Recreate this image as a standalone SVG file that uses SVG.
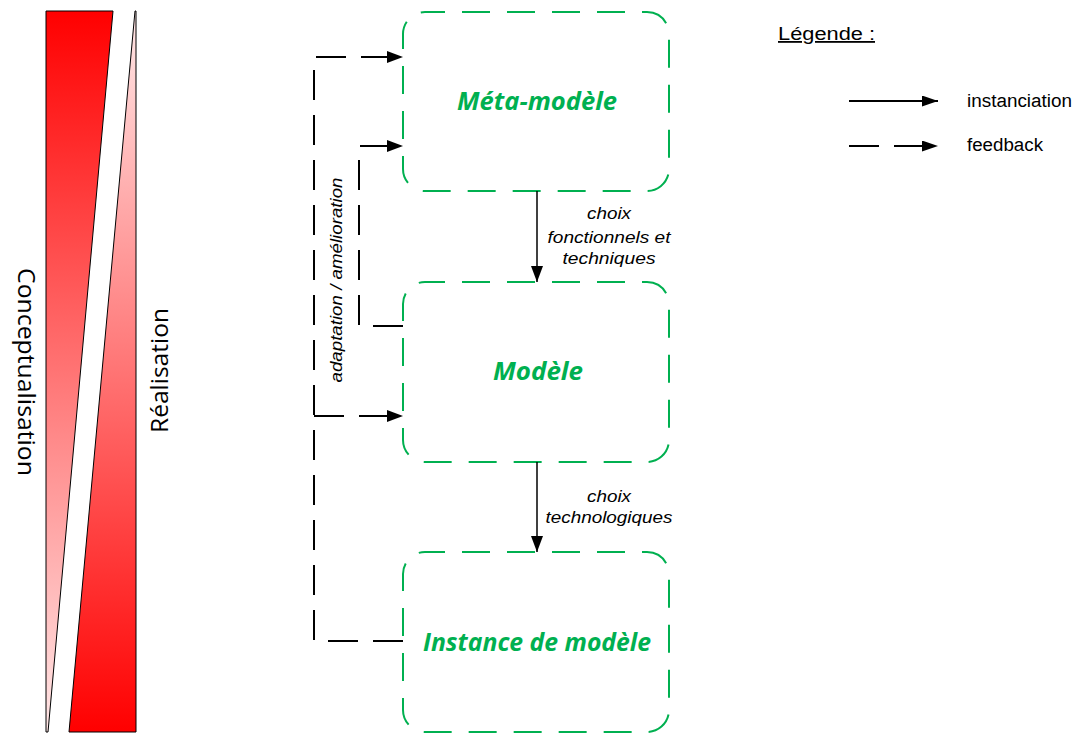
<svg xmlns="http://www.w3.org/2000/svg" width="1074" height="733" viewBox="0 0 1074 733">
  <defs>
    <linearGradient id="gDown" x1="0" y1="0" x2="0" y2="1">
      <stop offset="0" stop-color="#ff0000"/>
      <stop offset="1" stop-color="#ffe8e8"/>
    </linearGradient>
    <linearGradient id="gUp" x1="0" y1="0" x2="0" y2="1">
      <stop offset="0" stop-color="#ffe8e8"/>
      <stop offset="1" stop-color="#ff0000"/>
    </linearGradient>
    <marker id="arr" markerUnits="userSpaceOnUse" markerWidth="16" markerHeight="12" refX="16" refY="6" orient="auto">
      <path d="M0,0 L16,6 L0,12 Z" fill="#000"/>
    </marker>
    <marker id="arrS" markerUnits="userSpaceOnUse" markerWidth="16" markerHeight="11" refX="16" refY="5.5" orient="auto">
      <path d="M0,0 L16,5.5 L0,11 Z" fill="#000"/>
    </marker>
    <style>
      .box { fill: none; stroke: #00b050; stroke-width: 2; stroke-dasharray: 28 17; stroke-dashoffset: 8; }
      .title { font-family: "Open Sans", "Liberation Sans", sans-serif; font-weight: bold; font-style: italic; font-size: 25px; fill: #00b050; text-anchor: middle; }
      .lbl { font-family: "Liberation Sans", Arial, sans-serif; font-style: italic; font-size: 17px; fill: #000; text-anchor: middle; }
      .leg { font-family: "Liberation Sans", Arial, sans-serif; font-size: 18px; fill: #000; }
      .axis { font-family: "Open Sans", "Liberation Sans", sans-serif; font-size: 24px; fill: #000; text-anchor: middle; }
      .fb { fill: none; stroke: #000; stroke-width: 2; stroke-dasharray: 30 15; }
      .inst { fill: none; stroke: #000; stroke-width: 1.5; }
    </style>
  </defs>

  <g id="bars">
    <polygon points="46,11 113,11 48,732 46,732" fill="url(#gDown)" stroke="#000" stroke-width="1"/>
    <polygon points="135,11 136,11 136,732 69,732" fill="url(#gUp)" stroke="#000" stroke-width="1"/>
    <text class="axis" transform="translate(18,372) rotate(90)" x="0" y="0" textLength="208" lengthAdjust="spacingAndGlyphs">Conceptualisation</text>
    <text class="axis" transform="translate(168,370.5) rotate(-90)" x="0" y="0" textLength="125" lengthAdjust="spacingAndGlyphs">Réalisation</text>
  </g>

  <g id="node-meta">
    <rect class="box" x="403" y="12" width="266" height="179" rx="22" ry="22"/>
    <text class="title" x="537" y="110" textLength="160" lengthAdjust="spacingAndGlyphs">Méta-modèle</text>
  </g>

  <g id="node-modele">
    <rect class="box" x="403" y="282" width="266" height="180" rx="22" ry="22"/>
    <text class="title" x="538" y="380" textLength="90" lengthAdjust="spacingAndGlyphs">Modèle</text>
  </g>

  <g id="node-instance">
    <rect class="box" x="403" y="552" width="266" height="180" rx="22" ry="22"/>
    <text class="title" x="537" y="651" textLength="228" lengthAdjust="spacingAndGlyphs">Instance de modèle</text>
  </g>

  <g id="connectors">
    <path class="inst" d="M537,191 V282" marker-end="url(#arr)"/>
    <path class="inst" d="M537,462 V552" marker-end="url(#arr)"/>
    <text class="lbl" x="609" y="219" textLength="44" lengthAdjust="spacingAndGlyphs">choix</text>
    <text class="lbl" x="609" y="243" textLength="123" lengthAdjust="spacingAndGlyphs">fonctionnels et</text>
    <text class="lbl" x="609" y="264" textLength="93" lengthAdjust="spacingAndGlyphs">techniques</text>
    <text class="lbl" x="609" y="502" textLength="44" lengthAdjust="spacingAndGlyphs">choix</text>
    <text class="lbl" x="609" y="523" textLength="127" lengthAdjust="spacingAndGlyphs">technologiques</text>

    <path class="fb" d="M403,641 H314 V57 H403" marker-end="url(#arr)"/>
    <path class="fb" d="M314,416 H403" marker-end="url(#arr)"/>
    <path class="fb" d="M403,326 H359 V146 H403" marker-end="url(#arr)"/>
    <text class="lbl" transform="translate(342,280) rotate(-90)" x="0" y="0" textLength="205" lengthAdjust="spacingAndGlyphs">adaptation / amélioration</text>
  </g>

  <g id="legend">
    <text class="leg" x="778" y="40" textLength="97" lengthAdjust="spacingAndGlyphs" text-decoration="underline" font-size="20">Légende :</text>
    <path class="inst" d="M849,101 H938" marker-end="url(#arrS)" style="stroke-width:2"/>
    <text class="leg" x="967" y="107" textLength="105" lengthAdjust="spacingAndGlyphs">instanciation</text>
    <path class="fb" d="M849,146 H938" marker-end="url(#arrS)"/>
    <text class="leg" x="967" y="151" textLength="76" lengthAdjust="spacingAndGlyphs">feedback</text>
  </g>
</svg>
